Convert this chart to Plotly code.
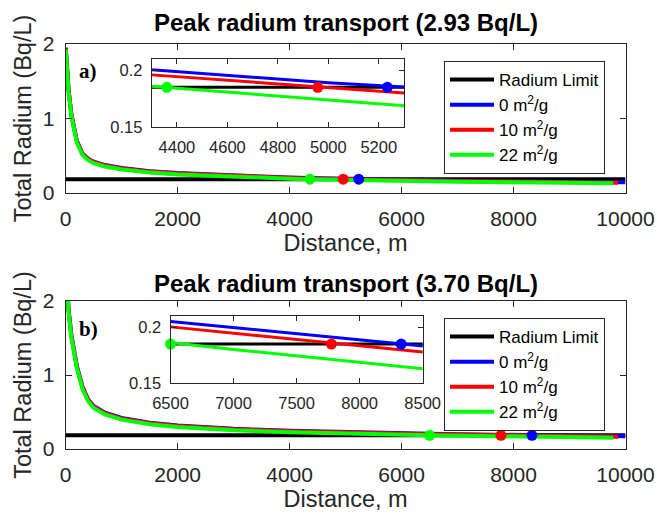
import plotly.graph_objects as go

# ---------------- data ----------------
radium_limit = 0.185
limit_dist = [0, 10000]

# panel a (peak 2.93 Bq/L)
dist_a = [0, 50, 100, 150, 200, 300, 400, 500, 700, 1000, 1500, 2000, 3000,
          4000, 4300, 5000, 5300, 6000, 7000, 8000, 9000]
blue_a = [1.95, 1.40, 1.06, 0.85, 0.70, 0.53, 0.46, 0.42, 0.375, 0.335, 0.292,
          0.268, 0.232, 0.207, 0.2005, 0.189, 0.1853, 0.177, 0.167, 0.158, 0.151]
red_a = [1.94, 1.39, 1.05, 0.84, 0.69, 0.525, 0.455, 0.415, 0.370, 0.330, 0.287,
         0.263, 0.227, 0.202, 0.196, 0.1845, 0.180, 0.172, 0.162, 0.153, 0.146]
green_a = [1.93, 1.37, 1.03, 0.82, 0.675, 0.51, 0.44, 0.40, 0.355, 0.315, 0.274,
           0.250, 0.215, 0.192, 0.186, 0.1735, 0.1687, 0.161, 0.151, 0.143, 0.136]
end_dist_a = [10000, 9870, 9780]        # blue, red, green
end_val_a = [0.143, 0.139, 0.130]
cross_dist_a = [5234, 4958, 4360]       # blue, red, green
cross_val_a = [0.185, 0.185, 0.185]

# panel b (peak 3.70 Bq/L)
dist_b = [0, 50, 100, 150, 200, 300, 400, 500, 700, 1000, 1500, 2000, 3000,
          4000, 5000, 6000, 6500, 7000, 7500, 8000, 8500, 9000]
blue_b = [2.60, 1.90, 1.55, 1.30, 1.12, 0.84, 0.67, 0.58, 0.49, 0.42, 0.355,
          0.318, 0.272, 0.245, 0.225, 0.211, 0.2051, 0.1995, 0.1940, 0.1885, 0.1833, 0.179]
red_b = [2.58, 1.88, 1.53, 1.28, 1.10, 0.83, 0.66, 0.57, 0.48, 0.41, 0.347,
         0.311, 0.266, 0.239, 0.219, 0.206, 0.2003, 0.1945, 0.189, 0.1835, 0.178, 0.174]
green_b = [2.55, 1.86, 1.51, 1.26, 1.09, 0.81, 0.645, 0.555, 0.466, 0.397, 0.334,
           0.298, 0.253, 0.226, 0.206, 0.1925, 0.1864, 0.1802, 0.1745, 0.1688, 0.163, 0.158]
end_dist_b = [10000, 9870, 9780]
end_val_b = [0.171, 0.166, 0.151]
cross_dist_b = [8329, 7776, 6500]
cross_val_b = [0.185, 0.185, 0.185]

series_names = ["0 m<sup>2</sup>/g", "10 m<sup>2</sup>/g", "22 m<sup>2</sup>/g"]
series_colors = ["#0000FF", "#FF0000", "#00FF00"]

titles = ["Peak radium transport (2.93 Bq/L)", "Peak radium transport (3.70 Bq/L)"]
main_xticks = [0, 2000, 4000, 6000, 8000, 10000]
main_xticklabels = ["0", "2000", "4000", "6000", "8000", "10000"]
main_yticks = [0, 1, 2]
inset_a_xticks = [4400, 4600, 4800, 5000, 5200]
inset_b_xticks = [6500, 7000, 7500, 8000, 8500]
inset_yticks = [0.15, 0.2]
inset_yticklabels = ["0.15", "0.2"]

# ---------------- figure ----------------
W, H = 657, 517
FONT = "Liberation Sans, Arial, Helvetica, sans-serif"
AX = "#262626"

def px_x(p):
    return p / W

def px_y(p):
    return 1 - p / H

fig = go.Figure()

panels = [
    dict(dist=dist_a, vals=[blue_a, red_a, green_a], ends=(end_dist_a, end_val_a),
         cross=(cross_dist_a, cross_val_a), main=("x", "y"), inset=("x2", "y2"),
         legend="legend"),
    dict(dist=dist_b, vals=[blue_b, red_b, green_b], ends=(end_dist_b, end_val_b),
         cross=(cross_dist_b, cross_val_b), main=("x3", "y3"), inset=("x4", "y4"),
         legend="legend2"),
]

for p in panels:
    for (xa, ya), is_main in ((p["main"], True), (p["inset"], False)):
        lw = 4 if is_main else 3
        fig.add_trace(go.Scatter(
            x=limit_dist, y=[radium_limit] * len(limit_dist), mode="lines",
            line=dict(color="black", width=lw), name="Radium Limit",
            legend=p["legend"], legendgroup="lim", showlegend=is_main,
            xaxis=xa, yaxis=ya, hoverinfo="skip"))
        for i in range(3):
            xs = p["dist"] + [p["ends"][0][i]]
            ys = p["vals"][i] + [p["ends"][1][i]]
            fig.add_trace(go.Scatter(
                x=xs, y=ys, mode="lines",
                line=dict(color=series_colors[i], width=lw),
                name=series_names[i], legend=p["legend"], legendgroup="s%d" % i,
                showlegend=is_main, xaxis=xa, yaxis=ya, hoverinfo="skip"))
        for i in range(3):
            fig.add_trace(go.Scatter(
                x=[p["cross"][0][i]], y=[p["cross"][1][i]], mode="markers",
                marker=dict(color=series_colors[i], size=11),
                showlegend=False, cliponaxis=False, xaxis=xa, yaxis=ya,
                hoverinfo="skip"))

tickfont_main = dict(family=FONT, size=21, color=AX)
tickfont_inset = dict(family=FONT, size=16.5, color=AX)
titlefont = dict(family=FONT, size=23.5, color=AX)

def main_x():
    return dict(domain=[px_x(65.7), px_x(625.5)], range=[0, 10000],
                tickvals=main_xticks, ticktext=main_xticklabels,
                ticks="inside", ticklen=6, tickcolor=AX,
                showline=True, linecolor=AX, linewidth=1, mirror="ticks",
                showgrid=False, zeroline=False, tickfont=tickfont_main,
                ticklabelstandoff=7, automargin=False,
                title=dict(text="Distance, m", font=titlefont, standoff=2))

def main_y(top, bot):
    return dict(domain=[px_y(bot), px_y(top)], range=[0, 2],
                tickvals=main_yticks, ticks="inside", ticklen=6, tickcolor=AX,
                showline=True, linecolor=AX, linewidth=1, mirror="ticks",
                showgrid=False, zeroline=False, tickfont=tickfont_main,
                ticklabelstandoff=6, automargin=False,
                title=dict(text="Total Radium (Bq/L)", font=titlefont, standoff=4))

def inset_x(left, right, rng, ticks):
    return dict(domain=[px_x(left), px_x(right)], range=rng, tickvals=ticks,
                ticks="inside", ticklen=5, tickcolor=AX, showline=True,
                linecolor=AX, linewidth=1, mirror="ticks", showgrid=False,
                zeroline=False, tickfont=tickfont_inset, ticklabelstandoff=5,
                automargin=False)

def inset_y(top, bot):
    return dict(domain=[px_y(bot), px_y(top)], range=[0.15, 0.21],
                tickvals=inset_yticks, ticktext=inset_yticklabels, ticks="inside",
                ticklen=5, tickcolor=AX, showline=True, linecolor=AX, linewidth=1,
                mirror="ticks", showgrid=False, zeroline=False,
                tickfont=tickfont_inset, ticklabelstandoff=5, automargin=False)

legend_common = dict(
    xanchor="left", yanchor="top", bgcolor="white", bordercolor=AX, borderwidth=1,
    font=dict(family=FONT, size=17, color="black"), itemwidth=44,
    tracegroupgap=0, traceorder="grouped", itemclick=False)

fig.update_layout(
    width=W, height=H, margin=dict(l=0, r=0, t=0, b=0, autoexpand=False),
    paper_bgcolor="white", plot_bgcolor="white", showlegend=True,
    xaxis=dict(main_x(), anchor="y"),
    yaxis=dict(main_y(44, 193), anchor="x"),
    xaxis2=dict(inset_x(151.7, 404, [4300, 5300], inset_a_xticks), anchor="y2"),
    yaxis2=dict(inset_y(59, 127), anchor="x2"),
    xaxis3=dict(main_x(), anchor="y3"),
    yaxis3=dict(main_y(301, 449), anchor="x3"),
    xaxis4=dict(inset_x(170.5, 422.7, [6500, 8500], inset_b_xticks), anchor="y4"),
    yaxis4=dict(inset_y(316, 383.3), anchor="x4"),
    legend=dict(legend_common, x=px_x(444), y=px_y(61)),
    legend2=dict(legend_common, x=px_x(444), y=px_y(318)),
)

# titles and panel labels
for t, ypx in zip(titles, (23, 283)):
    fig.add_annotation(text="<b>%s</b>" % t, xref="paper", yref="paper",
                       x=px_x(345.5), y=px_y(ypx), showarrow=False,
                       xanchor="center", yanchor="middle",
                       font=dict(family=FONT, size=24, color="black"))
for t, ypx in zip(["a)", "b)"], (71, 329)):
    fig.add_annotation(text="<b>%s</b>" % t, xref="paper", yref="paper",
                       x=px_x(77), y=px_y(ypx), showarrow=False,
                       xanchor="left", yanchor="middle",
                       font=dict(family="Liberation Serif, Times New Roman, serif",
                                 size=21, color="black"))

# remove the browser's default page margin so the figure fills the window
fig.write_html("out.html",
               config={"displayModeBar": False},
               post_script="document.body.style.margin='0';"
                           "document.body.style.overflow='hidden';")
